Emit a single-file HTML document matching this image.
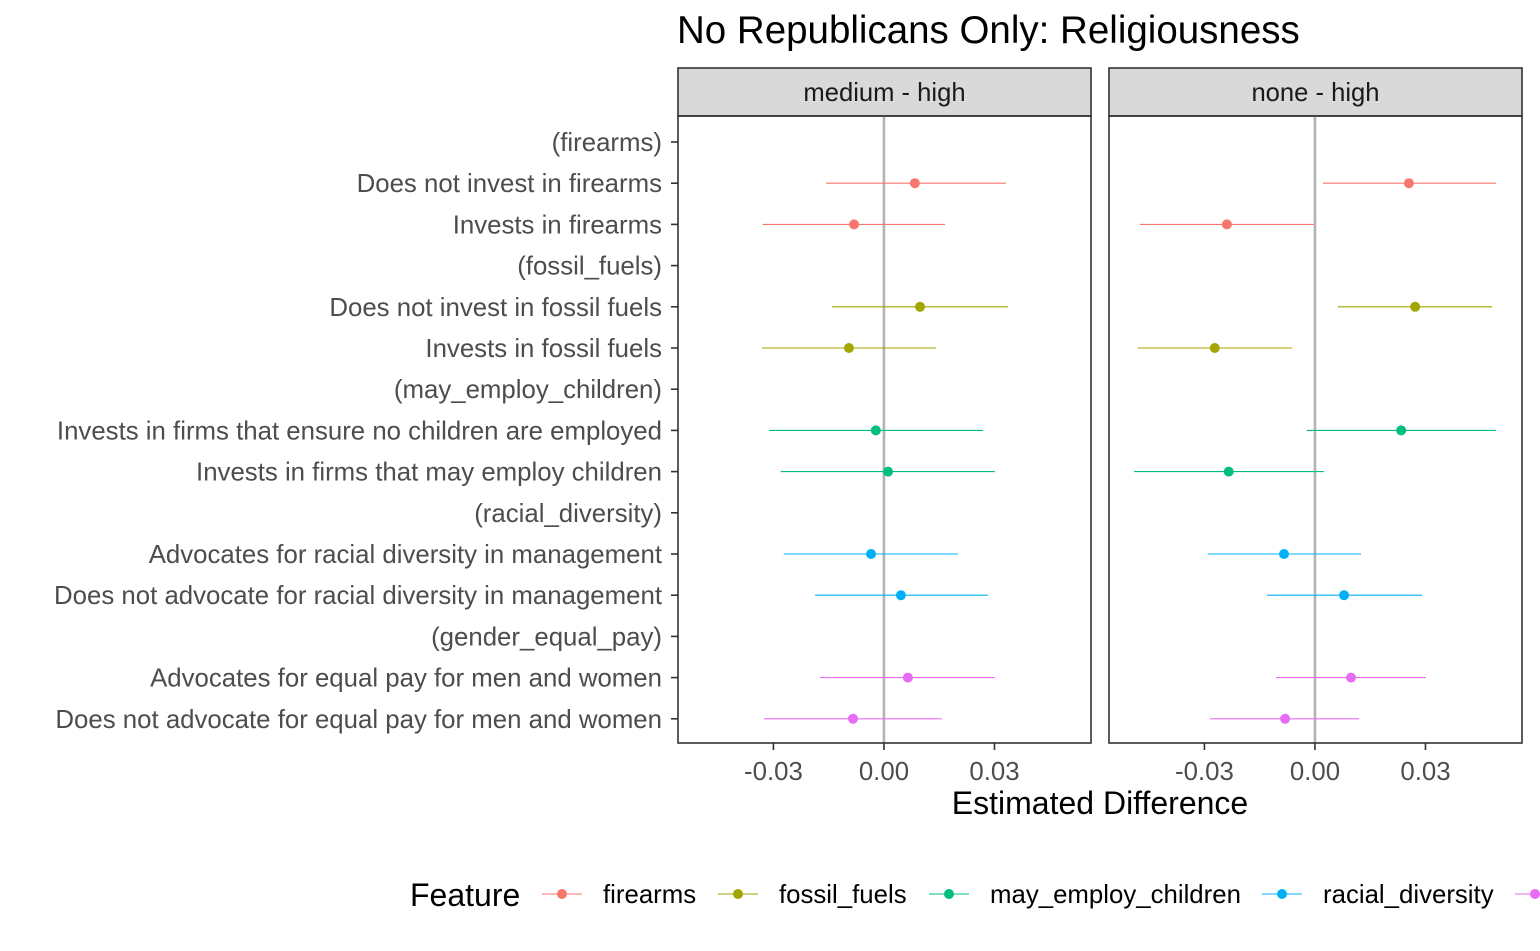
<!DOCTYPE html>
<html><head><meta charset="utf-8"><style>
body{margin:0;background:#fff;}
svg{display:block;font-family:"Liberation Sans",Arial,sans-serif;}
</style></head><body>
<svg id="chart" width="1540" height="951" viewBox="0 0 1540 951">
<text x="677" y="43" font-size="38.5" fill="#000">No Republicans Only: Religiousness</text>
<g id="panels"></g>
<text x="1100" y="814" font-size="32" text-anchor="middle" fill="#000">Estimated Difference</text>
<g id="legend">
<text x="410" y="906" font-size="32" fill="#000">Feature</text>
</g>
</svg>
<script>
const rowLabels=["(firearms)","Does not invest in firearms","Invests in firearms","(fossil_fuels)","Does not invest in fossil fuels","Invests in fossil fuels","(may_employ_children)","Invests in firms that ensure no children are employed","Invests in firms that may employ children","(racial_diversity)","Advocates for racial diversity in management","Does not advocate for racial diversity in management","(gender_equal_pay)","Advocates for equal pay for men and women","Does not advocate for equal pay for men and women"];
const features=["firearms","fossil_fuels","may_employ_children","racial_diversity","gender_equal_pay"];
const colors=["#F8766D","#A3A500","#00BF7D","#00B0F6","#E76BF3"];
const panelNames=["medium - high","none - high"];
const dataRows=[1,2,4,5,7,8,10,11,13,14];
const est1=[0.0084,-0.0081,0.0098,-0.0095,-0.0022,0.0011,-0.0035,0.0046,0.0065,-0.0084];
const lo1=[-0.0157,-0.0329,-0.0141,-0.0331,-0.0312,-0.0280,-0.0272,-0.0187,-0.0174,-0.0326];
const hi1=[0.0331,0.0166,0.0337,0.0141,0.0269,0.0301,0.0201,0.0282,0.0301,0.0157];
const est2=[0.0255,-0.0239,0.0272,-0.0272,0.0234,-0.0234,-0.0084,0.0079,0.0098,-0.0081];
const lo2=[0.0022,-0.0475,0.0062,-0.0481,-0.0022,-0.0491,-0.0291,-0.0130,-0.0106,-0.0285];
const hi2=[0.0491,-0.0003,0.0481,-0.0062,0.0491,0.0024,0.0125,0.0291,0.0301,0.0119];
const ticks=[-0.03,0,0.03];
const tickLabels=["-0.03","0.00","0.03"];
const NS="http://www.w3.org/2000/svg";
const g=document.getElementById('panels');
function mk(t,a,p){const e=document.createElementNS(NS,t);for(const k in a)e.setAttribute(k,a[k]);(p||g).appendChild(e);return e;}
const xmin=-0.0559,xmax=0.0562;
const pLeft=[678,1109],pW=413,plotTop=116,plotBot=743;
const yOf=i=>142+i*41.2;
const seriesEst=[est1,est2],seriesLo=[lo1,lo2],seriesHi=[hi1,hi2];
rowLabels.forEach((l,i)=>{
  const t=mk('text',{x:662,y:yOf(i)+9,'font-size':25.8,'text-anchor':'end',fill:'#4d4d4d'});t.textContent=l;
  
  
  const tk=mk('line',{x1:671,x2:678,y1:yOf(i),y2:yOf(i),stroke:'#333','stroke-width':1.6});
  
  
});
pLeft.forEach((L,p)=>{
  const xs=v=>L+(v-xmin)/(xmax-xmin)*pW;
  const strip=mk('rect',{x:L,y:68,width:pW,height:48,fill:'#d9d9d9',stroke:'#333','stroke-width':1.6});
  
  
  const st=mk('text',{x:L+pW/2,y:101,'font-size':25.6,'text-anchor':'middle',fill:'#1a1a1a'});st.textContent=panelNames[p];
  
  
  const zl=mk('line',{x1:xs(0),x2:xs(0),y1:plotTop,y2:plotBot,stroke:'#b3b3b3','stroke-width':2.6});
  
  
  dataRows.forEach((r,k)=>{
    const c=colors[Math.floor(k/2)];
    const ln=mk('line',{x1:xs(seriesLo[p][k]),x2:xs(seriesHi[p][k]),y1:yOf(r),y2:yOf(r),stroke:c,'stroke-width':1.1});
    
    
    const pt=mk('circle',{cx:xs(seriesEst[p][k]),cy:yOf(r),r:5,fill:c});
    
    
  });
  const fr=mk('rect',{x:L,y:plotTop,width:pW,height:plotBot-plotTop,fill:'none',stroke:'#333','stroke-width':1.6});
  
  
  ticks.forEach((v,i)=>{
    const tk=mk('line',{x1:xs(v),x2:xs(v),y1:plotBot,y2:plotBot+7,stroke:'#333','stroke-width':1.6});
    
    
    const tl=mk('text',{x:xs(v),y:plotBot+37,'font-size':25.8,'text-anchor':'middle',fill:'#4d4d4d'});tl.textContent=tickLabels[i];
    
    
  });
});
const lg=document.getElementById('legend');
const keyX=[542,718,929,1262,1515],txtX=[603,779,990,1323,1576];
features.forEach((f,i)=>{
  const ln=mk('line',{x1:keyX[i],x2:keyX[i]+40,y1:894,y2:894,stroke:colors[i],'stroke-width':1.1},lg);
  
  
  const c=mk('circle',{cx:keyX[i]+20,cy:894,r:5,fill:colors[i]},lg);
  
  
  const t=mk('text',{x:txtX[i],y:903,'font-size':25.8,fill:'#000'},lg);t.textContent=f;
  
  
});
</script>
</body></html>
